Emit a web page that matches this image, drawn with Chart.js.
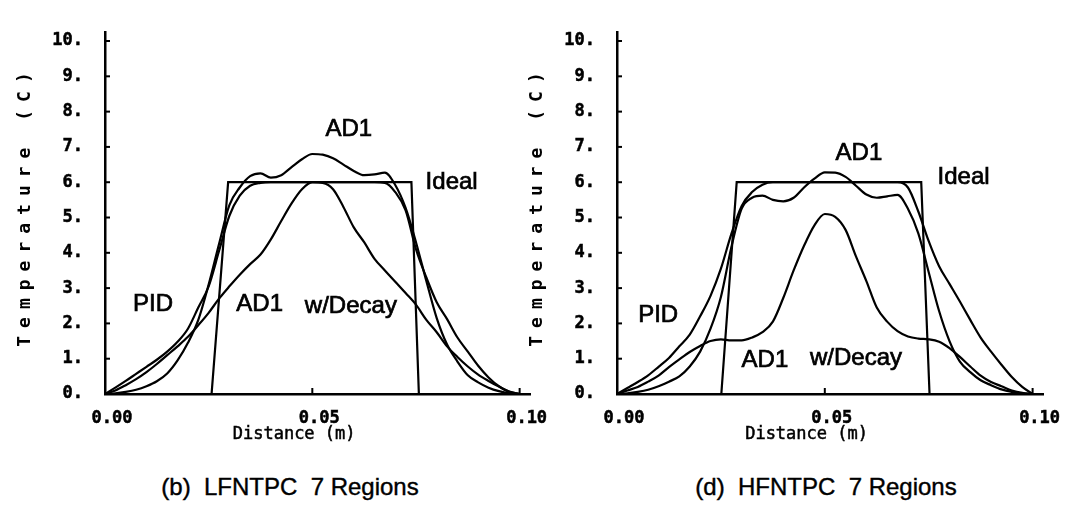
<!DOCTYPE html>
<html><head><meta charset="utf-8">
<script src="https://cdn.jsdelivr.net/npm/chart.js@4.4.1/dist/chart.umd.min.js"></script>
<style>
html,body{margin:0;padding:0;background:#fff;width:1065px;height:515px;overflow:hidden;position:relative;}
.wrap{position:absolute;top:0;}
.cap{position:absolute;font-family:"Liberation Sans",Arial,sans-serif;font-size:24px;color:#000;white-space:pre;transform:translateX(-50%);line-height:28px;-webkit-text-stroke:0.4px #000;}
</style></head><body>
<div class="wrap" style="left:0px"><canvas id="c1" width="560" height="460"></canvas></div>
<div class="wrap" style="left:515px"><canvas id="c2" width="570" height="460"></canvas></div>
<div class="cap" style="left:290px;top:473px">(b)  LFNTPC  7 Regions</div>
<div class="cap" style="left:826px;top:473px">(d)  HFNTPC  7 Regions</div>
<script>
// ---------- DATA ----------
const xGrid = [0, 0.0025, 0.005, 0.0075, 0.01, 0.0125, 0.015, 0.0175, 0.02, 0.0225,
  0.025, 0.0275, 0.03, 0.0325, 0.035, 0.0375, 0.04, 0.0425, 0.045, 0.0475,
  0.05, 0.0525, 0.055, 0.0575, 0.06, 0.0625, 0.065, 0.0675, 0.07, 0.0725,
  0.075, 0.0775, 0.08, 0.0825, 0.085, 0.0875, 0.09, 0.0925, 0.095, 0.0975, 0.1];

// (b) LFNTPC 7 Regions
const lfPID = [0, 0.18, 0.37, 0.57, 0.77, 0.97, 1.2, 1.48, 1.85, 2.45,
  3.05, 4.05, 5.05, 5.62, 5.9, 5.98, 6.0, 6.0, 6.0, 6.0,
  6.0, 6.0, 6.0, 6.0, 6.0, 6.0, 6.0, 5.98, 5.72, 5.2,
  4.1, 3.3, 2.6, 2.12, 1.6, 1.2, 0.8, 0.47, 0.22, 0.06, 0];
const lfAD1 = [0, 0.02, 0.06, 0.12, 0.22, 0.36, 0.58, 0.95, 1.45, 2.1,
  3.1, 4.25, 5.35, 5.85, 6.17, 6.25, 6.13, 6.2, 6.43, 6.65,
  6.8, 6.78, 6.68, 6.5, 6.32, 6.2, 6.22, 6.27, 5.92, 5.27,
  4.3, 3.2, 2.15, 1.4, 0.92, 0.53, 0.33, 0.18, 0.08, 0.02, 0];
const lfAD1Decay = [0, 0.1, 0.25, 0.42, 0.62, 0.85, 1.1, 1.35, 1.62, 1.95,
  2.3, 2.7, 3.05, 3.38, 3.68, 3.95, 4.38, 4.9, 5.4, 5.8,
  6.0, 5.98, 5.8, 5.3, 4.72, 4.3, 3.83, 3.5, 3.18, 2.86,
  2.53, 2.1, 1.75, 1.35, 1.05, 0.78, 0.55, 0.37, 0.21, 0.07, 0];
const lfIdealX = [0, 0.0257, 0.0297, 0.0739, 0.0757, 0.1];
const lfIdealY = [0, 0, 6, 6, 0, 0];
const lfNoteText = ['AD1', 'Ideal', 'PID', 'AD1', 'w/Decay'];
const lfNoteX = [0.0588, 0.0836, 0.0116, 0.0373, 0.0593];
const lfNoteY = [7.5, 6.0, 2.53, 2.55, 2.47];

// (d) HFNTPC 7 Regions
const hfPID = [0, 0.17, 0.34, 0.53, 0.77, 1.02, 1.35, 1.68, 2.2, 2.78,
  3.55, 4.53, 5.33, 5.72, 5.93, 6.0, 6.0, 6.0, 6.0, 6.0,
  6.0, 6.0, 6.0, 6.0, 6.0, 6.0, 6.0, 6.0, 5.85, 5.17,
  4.33, 3.62, 3.12, 2.62, 2.1, 1.6, 1.2, 0.83, 0.48, 0.2, 0];
const hfAD1 = [0, 0.02, 0.06, 0.12, 0.22, 0.35, 0.5, 0.78, 1.2, 1.85,
  2.75, 4.15, 5.25, 5.56, 5.62, 5.5, 5.46, 5.56, 5.85, 6.1,
  6.28, 6.27, 6.15, 5.9, 5.65, 5.56, 5.6, 5.64, 5.25, 4.55,
  3.45, 2.35, 1.5, 0.92, 0.62, 0.39, 0.25, 0.13, 0.06, 0.02, 0];
const hfAD1Decay = [0, 0.1, 0.2, 0.35, 0.52, 0.76, 0.98, 1.19, 1.36, 1.5,
  1.55, 1.52, 1.52, 1.6, 1.75, 2.05, 2.72, 3.5, 4.2, 4.78,
  5.1, 5.02, 4.65, 3.9, 3.2, 2.45, 2.05, 1.78, 1.63, 1.57,
  1.55, 1.48, 1.3, 1.05, 0.78, 0.52, 0.34, 0.22, 0.1, 0.03, 0];
const hfIdealX = [0, 0.0251, 0.0288, 0.0732, 0.0752, 0.1];
const hfIdealY = [0, 0, 6, 6, 0, 0];
const hfNoteText = ['AD1', 'Ideal', 'PID', 'AD1', 'w/Decay'];
const hfNoteX = [0.0582, 0.0834, 0.0099, 0.0356, 0.0575];
const hfNoteY = [6.83, 6.15, 2.22, 0.95, 1.0];

// axes
const xTickValues = [0, 0.05, 0.10];
const xTickLabels = ['0.00', '0.05', '0.10'];
const yTickValues = [0, 1, 2, 3, 4, 5, 6, 7, 8, 9, 10];
const yTickLabels = ['0.', '1.', '2.', '3.', '4.', '5.', '6.', '7.', '8.', '9.', '10.'];
const xTitle = 'Distance (m)';
const yTitle = 'Temperature (C)';

// ---------- DRAWING ----------
const pts = (xs, ys) => xs.map((x, i) => ({x: x, y: ys[i]}));

const decor = {
  id: 'decor',
  afterDraw(chart, args, opts) {
    const {ctx, chartArea: ca, scales: {x, y}} = chart;
    ctx.save();
    ctx.strokeStyle = '#000';
    ctx.lineWidth = 2;
    yTickValues.forEach(v => {
      const py = y.getPixelForValue(v);
      ctx.beginPath(); ctx.moveTo(ca.left, py); ctx.lineTo(ca.left + 5, py); ctx.stroke();
    });
    xTickValues.forEach(v => {
      const px = x.getPixelForValue(v);
      ctx.beginPath(); ctx.moveTo(px, ca.bottom); ctx.lineTo(px, ca.bottom - 6); ctx.stroke();
    });
    ctx.fillStyle = '#000';
    ctx.textAlign = 'center';
    ctx.textBaseline = 'middle';
    ctx.font = '24px "Liberation Sans", Arial, sans-serif';
    ctx.lineWidth = 0.7;
    opts.text.forEach((s, i) => {
      const px = x.getPixelForValue(opts.nx[i]), py = y.getPixelForValue(opts.ny[i]);
      ctx.fillText(s, px, py);
      ctx.strokeText(s, px, py);
    });
    // x title
    ctx.font = '17px "DejaVu Sans Mono", monospace';
    ctx.lineWidth = 0.5;
    const tx = ca.left + 0.445 * (ca.right - ca.left), ty = ca.bottom + 41;
    ctx.fillText(xTitle, tx, ty);
    ctx.strokeText(xTitle, tx, ty);
    // y title
    ctx.save();
    ctx.font = 'bold 18px "DejaVu Sans Mono", monospace';
    try { ctx.letterSpacing = '8px'; } catch (e) {}
    ctx.translate(ca.left - 80, ca.top + 0.49 * (ca.bottom - ca.top));
    ctx.rotate(-Math.PI / 2);
    ctx.fillText(yTitle, 4, 0);
    ctx.restore();
    ctx.restore();
  }
};

function makeChart(id, pid, ad1, dec, ix, iy, nt, nx, ny, yWidth, padTop, padRight) {
  const line = {borderColor: '#000', borderWidth: 2.2, pointRadius: 0, fill: false,
    cubicInterpolationMode: 'monotone'};
  const tickFont = {family: '"DejaVu Sans Mono", monospace', size: 17, weight: 'bold'};
  return new Chart(document.getElementById(id), {
    type: 'line',
    data: {
      datasets: [
        Object.assign({label: 'Ideal', data: pts(ix, iy)}, line, {cubicInterpolationMode: 'default', tension: 0}),
        Object.assign({label: 'PID', data: pts(xGrid, pid)}, line),
        Object.assign({label: 'AD1', data: pts(xGrid, ad1)}, line),
        Object.assign({label: 'AD1 w/Decay', data: pts(xGrid, dec)}, line)
      ]
    },
    options: {
      responsive: false,
      animation: false,
      events: [],
      layout: {padding: {top: padTop, right: padRight, left: 0, bottom: 0}},
      plugins: {
        legend: {display: false},
        tooltip: {enabled: false},
        decor: {text: nt, nx: nx, ny: ny}
      },
      scales: {
        x: {
          type: 'linear', min: 0, max: 0.1025,
          grid: {display: false, drawTicks: false},
          border: {display: true, color: '#000', width: 2.5},
          afterBuildTicks: s => { s.ticks = xTickValues.map(v => ({value: v})); },
          afterFit: s => { s.height = 66; },
          ticks: {
            color: '#000', padding: 14, labelOffset: 7, maxRotation: 0, autoSkip: false,
            textStrokeColor: '#000', textStrokeWidth: 0.5,
            font: tickFont,
            callback: (v) => { const i = xTickValues.indexOf(v); return i >= 0 ? xTickLabels[i] : ''; }
          }
        },
        y: {
          type: 'linear', min: 0, max: 10.25,
          grid: {display: false, drawTicks: false},
          border: {display: true, color: '#000', width: 2.5},
          afterBuildTicks: s => { s.ticks = yTickValues.map(v => ({value: v})); },
          afterFit: s => { s.width = yWidth; },
          ticks: {
            color: '#000', padding: 22, autoSkip: false,
            textStrokeColor: '#000', textStrokeWidth: 0.5,
            font: tickFont,
            callback: (v) => { const i = yTickValues.indexOf(v); return i >= 0 ? yTickLabels[i] : ''; }
          }
        }
      }
    },
    plugins: [decor]
  });
}

makeChart('c1', lfPID, lfAD1, lfAD1Decay, lfIdealX, lfIdealY, lfNoteText, lfNoteX, lfNoteY, 105, 13, 30);
makeChart('c2', hfPID, hfAD1, hfAD1Decay, hfIdealX, hfIdealY, hfNoteText, hfNoteX, hfNoteY, 102, 16, 42);
</script>
</body></html>
